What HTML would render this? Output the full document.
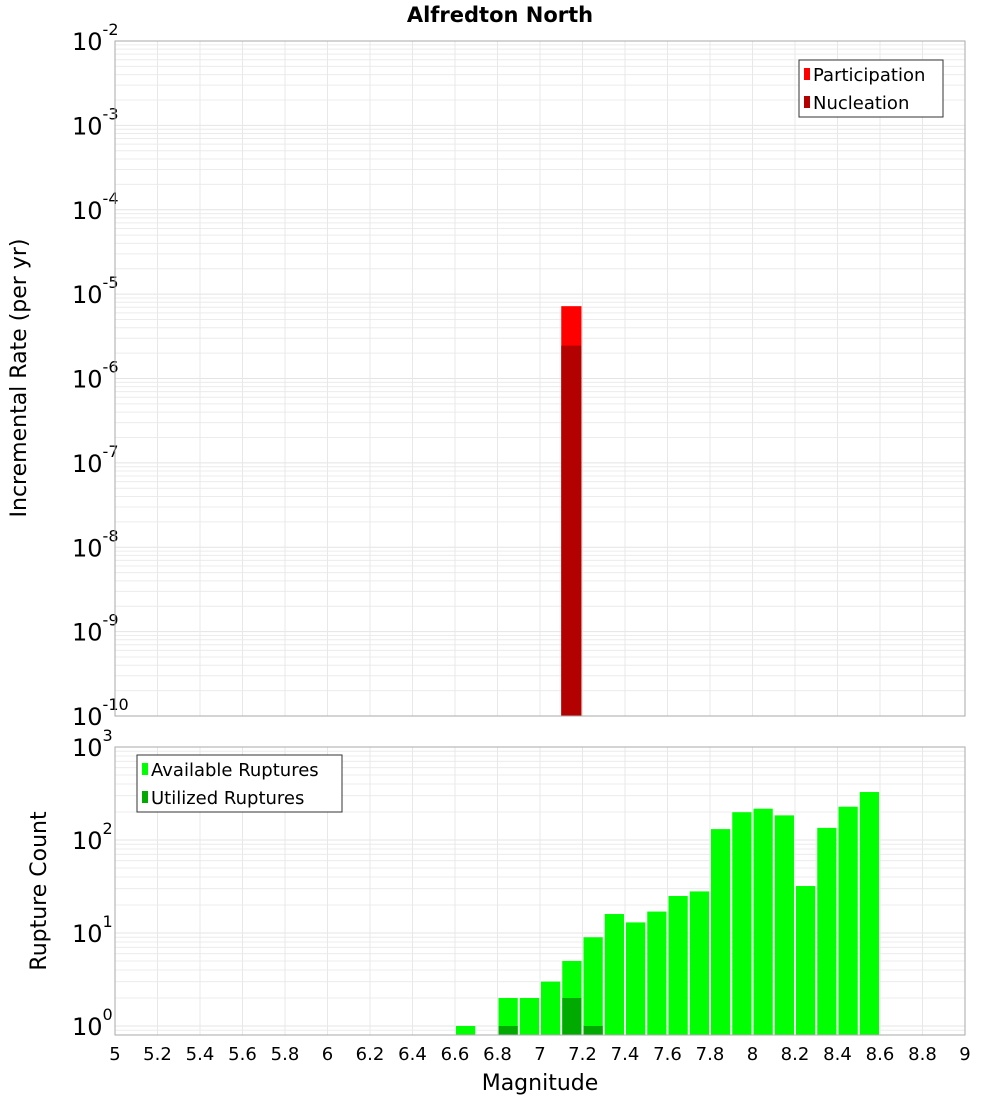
<!DOCTYPE html>
<html><head><meta charset="utf-8"><style>
body{margin:0;background:#fff}
svg text{font-family:"DejaVu Sans","Liberation Sans",sans-serif}
</style></head><body>
<svg id="chart" width="1000" height="1100" xmlns="http://www.w3.org/2000/svg">
<rect width="1000" height="1100" fill="#fff"/>
<text x="500" y="22" text-anchor="middle" font-size="21" font-weight="bold">Alfredton North</text>
<g id="topPanel"></g><g id="botPanel"></g>
<text transform="translate(26,378) rotate(-90)" text-anchor="middle" font-size="22">Incremental Rate (per yr)</text>
<text transform="translate(46,891) rotate(-90)" text-anchor="middle" font-size="22">Rupture Count</text>
<text x="540" y="1090" text-anchor="middle" font-size="22">Magnitude</text>
</svg>
<script>
const xTicks=[5,5.2,5.4,5.6,5.8,6,6.2,6.4,6.6,6.8,7,7.2,7.4,7.6,7.8,8,8.2,8.4,8.6,8.8,9];
const rateMags=[7.15];
const participation=[7.2e-6];
const nucleation=[2.45e-6];
const countMags=[6.65,6.85,6.95,7.05,7.15,7.25,7.35,7.45,7.55,7.65,7.75,7.85,7.95,8.05,8.15,8.25,8.35,8.45,8.55];
const available=[1,2,2,3,5,9,16,13,17,25,28,131,199,217,184,32,135,228,328];
const utilMags=[6.85,7.15,7.25];
const utilized=[1,2,1];
const topExps=[-2,-3,-4,-5,-6,-7,-8,-9,-10];
const botExps=[0,1,2,3];

const NS="http://www.w3.org/2000/svg";
const X0=115,X1=965;
const xs=m=>X0+(m-5)/4*(X1-X0);
const TY0=41,TY1=716;
const ty=v=>TY0+(-2-Math.log10(v))/8*(TY1-TY0);
const BY0=747,BY1=1035,BDEC=93;
const by=v=>1026-Math.log10(v)*BDEC;
function mk(parent,tag,attrs){const e=document.createElementNS(NS,tag);for(const k in attrs)e.setAttribute(k,attrs[k]);parent.appendChild(e);return e;}
const gTop=document.getElementById('topPanel'),gBot=document.getElementById('botPanel');

function panel(g,y0,y1,exps,yf,lo,hi,name){
  const bg=mk(g,'rect',{x:X0,y:y0,width:X1-X0,height:y1-y0,fill:'#fff'});
  
  
  for(let e=lo;e<=hi;e++){for(let k=1;k<10;k++){const v=k*Math.pow(10,e);const y=yf(v);if(y<y0-0.5||y>y1+0.5)continue;
    const l=mk(g,'line',{x1:X0,x2:X1,y1:y,y2:y,stroke:k==1?'#e4e4e4':'#ececec','stroke-width':1});
    
    }}
  xTicks.forEach(m=>{const x=xs(m);const l=mk(g,'line',{x1:x,x2:x,y1:y0,y2:y1,stroke:'#e8e8e8'});
    
    });
  exps.forEach(e=>{const y=yf(Math.pow(10,e));const t=mk(g,'text',{x:72,y:y+9,'font-size':24});
    
    
    t.textContent='10';const s=mk(t,'tspan',{dy:-15,'font-size':16});s.textContent=String(e);});
}
panel(gTop,TY0,TY1,topExps,ty,-10,-2,'top');
panel(gBot,BY0,BY1,botExps,by,-1,3,'bottom');

const bw=(X1-X0)/40;
rateMags.forEach((m,i)=>{const x=xs(m)-bw/2;
  const r=mk(gTop,'rect',{x:x,y:ty(participation[i]),width:bw-1,height:TY1-ty(participation[i]),fill:'#ff0000'});
  
  
  const n=mk(gTop,'rect',{x:x,y:ty(nucleation[i]),width:bw-1,height:TY1-ty(nucleation[i]),fill:'#b30000'});
  
  });
countMags.forEach((m,i)=>{const x=xs(m)-bw/2+1;
  const r=mk(gBot,'rect',{x:x,y:by(available[i]),width:bw-2,height:BY1-by(available[i]),fill:'#00ff00'});
  
  });
utilMags.forEach((m,i)=>{const x=xs(m)-bw/2+1;
  const r=mk(gBot,'rect',{x:x,y:by(utilized[i]),width:bw-2,height:BY1-by(utilized[i]),fill:'#00aa00'});
  
  });

[[gTop,TY0,TY1],[gBot,BY0,BY1]].forEach(([g,a,b])=>{const f=mk(g,'rect',{x:X0,y:a,width:X1-X0,height:b-a,fill:'none',stroke:'#aaa'});
  
  });

xTicks.forEach(m=>{const t=mk(gBot,'text',{x:xs(m),y:1060,'text-anchor':'middle','font-size':18});
  
  
  t.textContent=String(m);});

function legend(g,x,y,w,items,name){
  const b=mk(g,'rect',{x:x,y:y,width:w,height:57,fill:'#fff',stroke:'#333'});
  
  
  items.forEach(([label,c],i)=>{const yy=y+14+i*28;
    const s=mk(g,'rect',{x:x+5,y:yy-6,width:6,height:12,fill:c});
    
    
    const t=mk(g,'text',{x:x+14,y:yy+7,'font-size':18});
    
    
    t.textContent=label;});
}
legend(gTop,799,60,144,[['Participation','#ff0000'],['Nucleation','#b30000']],'top-legend');
legend(gBot,137,755,205,[['Available Ruptures','#00ff00'],['Utilized Ruptures','#00aa00']],'bottom-legend');
</script>
</body></html>
